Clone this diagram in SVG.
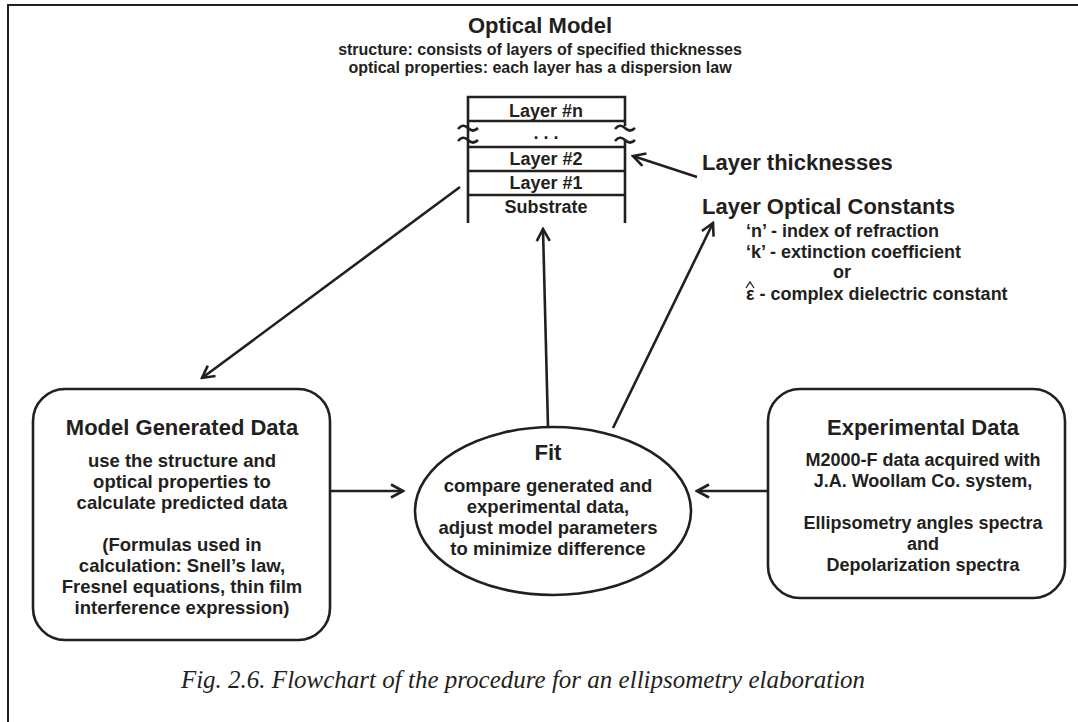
<svg xmlns="http://www.w3.org/2000/svg" width="1078" height="722" viewBox="0 0 1078 722">
<defs>
<style>
.t{font-family:"Liberation Sans",Arial,sans-serif;font-weight:bold;fill:#231f20;text-anchor:middle}
.h{font-size:22px}
.b{font-size:18.5px}
.e{font-size:18px}
.s{font-size:16px}
.l{font-size:18px}
.st{fill:none;stroke:#231f20;stroke-width:2.6}
.cap{font-family:"Liberation Serif","Times New Roman",serif;font-style:italic;font-size:25px;fill:#231f20;text-anchor:middle}
</style>
<marker id="ah" markerUnits="userSpaceOnUse" markerWidth="16" markerHeight="16" viewBox="0 0 16 16" refX="14" refY="8" orient="auto">
<path d="M2,1.5 L14,8 L2,14.5" fill="none" stroke="#231f20" stroke-width="2.6"/>
</marker>
</defs>
<rect width="1078" height="722" fill="#fff"/>
<g id="frame">
<path d="M8,722 L8,5 L1078,5" fill="none" stroke="#231f20" stroke-width="2"/>
</g>
<g id="optical-model">
<text class="t h" x="540" y="33">Optical Model</text>
<text class="t s" x="540" y="55">structure: consists of layers of specified thicknesses</text>
<text class="t s" x="540" y="73">optical properties: each layer has a dispersion law</text>
<g id="layer-stack">
<path class="st" d="M468,223 L468,126 M468,140 L468,97 L625,97 L625,126 M625,140 L625,223"/>
<path class="st" d="M468,121 L625,121 M468,147 L625,147 M468,171 L625,171 M468,195 L625,195"/>
<path class="st" d="M458,129 q5,-6 10,-1 t10,0 M458,141 q5,-6 10,-1 t10,0"/>
<path class="st" d="M615,129 q5,-6 10,-1 t10,0 M615,141 q5,-6 10,-1 t10,0"/>
<text class="t l" x="546" y="117">Layer #n</text>
<text class="t l" x="546" y="139">. . .</text>
<text class="t l" x="546" y="165">Layer #2</text>
<text class="t l" x="546" y="189">Layer #1</text>
<text class="t l" x="546" y="213">Substrate</text>
</g>
</g>
<g id="layer-thicknesses">
<text class="t h" x="702" y="170" style="text-anchor:start">Layer thicknesses</text>
</g>
<g id="layer-optical-constants">
<text class="t h" x="702" y="214" style="text-anchor:start">Layer Optical Constants</text>
<text class="t l" x="746" y="237" style="text-anchor:start">‘n’ - index of refraction</text>
<text class="t l" x="746" y="258" style="text-anchor:start">‘k’ - extinction coefficient</text>
<text class="t l" x="842" y="278">or</text>
<text class="t l" x="746" y="300" style="text-anchor:start">ε - complex dielectric constant</text>
<path d="M746,288 L750,282 L754,288" fill="none" stroke="#231f20" stroke-width="1.3"/>
</g>
<g id="model-generated-data">
<rect class="st" x="33" y="389" width="297" height="251" rx="32" ry="32"/>
<text class="t h" x="182" y="435">Model Generated Data</text>
<text class="t b" x="182" y="467">use the structure and</text>
<text class="t b" x="182" y="488">optical properties to</text>
<text class="t b" x="182" y="509">calculate predicted data</text>
<text class="t b" x="182" y="551">(Formulas used in</text>
<text class="t b" x="182" y="572">calculation: Snell’s law,</text>
<text class="t b" x="182" y="593">Fresnel equations, thin film</text>
<text class="t b" x="182" y="614">interference expression)</text>
</g>
<g id="fit">
<ellipse class="st" cx="553" cy="511" rx="138" ry="84"/>
<text class="t h" x="548" y="460">Fit</text>
<text class="t b" x="548" y="492">compare generated and</text>
<text class="t b" x="548" y="513">experimental data,</text>
<text class="t b" x="548" y="534">adjust model parameters</text>
<text class="t b" x="548" y="555">to minimize difference</text>
</g>
<g id="experimental-data">
<rect class="st" x="768" y="389" width="297" height="209" rx="32" ry="32"/>
<text class="t h" x="923" y="435">Experimental Data</text>
<text class="t e" x="923" y="466">M2000-F data acquired with</text>
<text class="t e" x="923" y="487">J.A. Woollam Co. system,</text>
<text class="t e" x="923" y="529">Ellipsometry angles spectra</text>
<text class="t e" x="923" y="550">and</text>
<text class="t e" x="923" y="571">Depolarization spectra</text>
</g>
<g id="connectors">
<line class="st" x1="460" y1="187" x2="202" y2="378" marker-end="url(#ah)"/>
<line class="st" x1="548" y1="427" x2="543" y2="229" marker-end="url(#ah)"/>
<line class="st" x1="613" y1="428" x2="713" y2="223" marker-end="url(#ah)"/>
<line class="st" x1="697" y1="177" x2="633" y2="156" marker-end="url(#ah)"/>
<line class="st" x1="330" y1="491" x2="403" y2="491" marker-end="url(#ah)"/>
<line class="st" x1="768" y1="491" x2="697" y2="491" marker-end="url(#ah)"/>
</g>
<g id="caption">
<text class="cap" x="523" y="688">Fig. 2.6. Flowchart of the procedure for an ellipsometry elaboration</text>
</g>
</svg>
